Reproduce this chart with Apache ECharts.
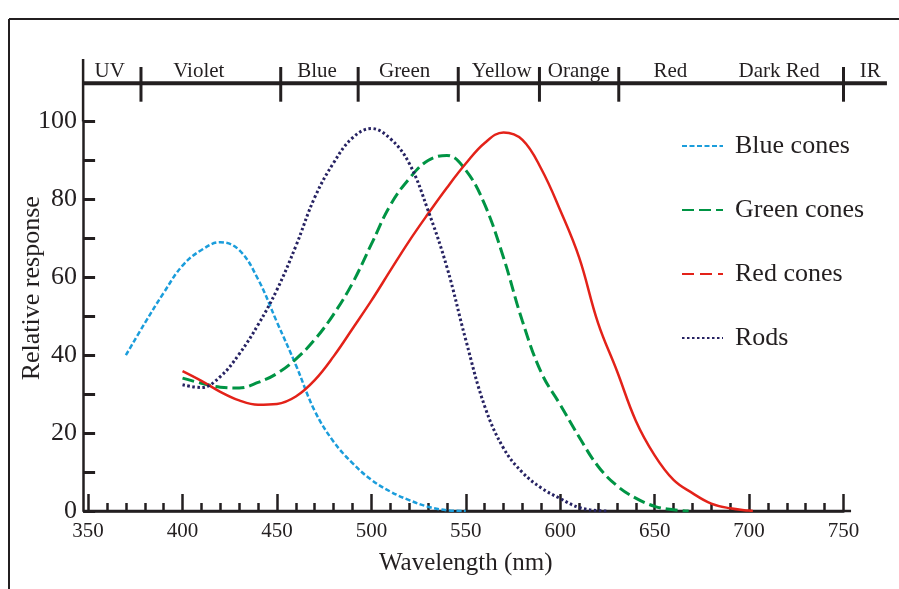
<!DOCTYPE html>
<html><head><meta charset="utf-8">
<script src="https://cdn.jsdelivr.net/npm/echarts@6/dist/echarts.min.js"></script>
<style>html,body{margin:0;padding:0;background:#fff}#c{width:899px;height:589px}</style>
</head><body><div id="c"></div>
<script>
// ---- data ----
const blueNm  = [370,380,390,400,410,420,430,440,450,460,470,480,490,500,510,520,530,540,550];
const blueVal = [40,48.2,56,63,67,69,67,59.5,48.5,37.5,25.7,17.8,12.3,8,5,2.8,1.1,0.2,0];

const greenNm  = [400,410,420,430,440,450,460,470,480,490,500,510,520,530,540,550,560,570,580,590,600,610,620,630,640,650,660,668];
const greenVal = [34.1,32.8,31.8,31.6,33,35.3,39,44,50.5,58.5,68.5,78.5,85.3,90,91.3,87.5,78.7,65,48.7,35.5,27.3,19,11.5,6.5,3.3,1.2,0.3,0];

const redNm  = [400,410,420,430,440,450,460,470,480,490,500,510,520,530,540,550,560,570,580,590,600,610,620,630,640,650,660,670,680,690,700,702];
const redVal = [35.9,33.4,30.6,28.4,27.3,27.5,29.4,33.6,39.7,46.8,54,61.7,69.3,76.3,83,89.2,94.5,97.2,95.3,87.8,77.2,65.1,48.3,36,23.2,14.3,8,4.6,1.9,0.7,0.1,0];

const rodsNm  = [400,410,420,430,440,450,460,470,480,490,500,510,520,530,540,550,560,570,580,590,600,610,620,625];
const rodsVal = [32.4,31.7,34.5,40.3,47.8,56.8,68,80.5,89.4,95.8,98.2,95.6,89.3,77.2,62.6,43.9,26.9,16.1,9.9,5.9,3.2,0.9,0.1,0];

const seriesNames = ['Blue cones','Green cones','Red cones','Rods'];

const xTicks = {min:350, max:750, interval:50};
const yTicks = {min:0, max:100, interval:10, labelEvery:20};

// spectrum band along the top
const bandBoundaries = [378,452,493,546,589,631,750];
const bandNames  = ['UV','Violet','Blue','Green','Yellow','Orange','Red','Dark Red','IR'];
const bandCenters = [361.4,408.6,471.2,517.6,569,609.8,658.3,715.9,764.2];
const bandEnd = 773;

// ---- chart ----
const ink = '#231f20';
const serif = "'Liberation Serif','Times New Roman',serif";
const zip = (a,b)=>a.map((v,i)=>[v,b[i]]);

const chart = echarts.init(document.getElementById('c'), null, {renderer:'canvas'});
const mkLine = (name, nm, val, color, width, type) => ({
  name, type:'line', data: zip(nm,val), symbol:'none', smooth:0.4,
  lineStyle:{color, width, type}, itemStyle:{color}, z:3
});

chart.setOption({
  backgroundColor:'#fff',
  animation:false,
  grid:{left:88.1, right:55.5, top:121.5, bottom:78, containLabel:false, outerBoundsMode:'none'},
  legend:{
    orient:'vertical', left:676, top:126, itemWidth:41, itemHeight:14, itemGap:34,
    itemStyle:{opacity:0},
    textStyle:{fontFamily:serif, fontSize:26, color:ink, lineHeight:30, padding:[0,0,0,7]},
    data:[
      {name:'Blue cones'},
      {name:'Green cones'},
      {name:'Red cones', lineStyle:{type:[12,6]}},
      {name:'Rods'}
    ]
  },
  xAxis:{
    type:'value', min:xTicks.min, max:xTicks.max, interval:xTicks.interval,
    name:'Wavelength (nm)', nameLocation:'middle', nameGap:40, nameMoveOverlap:false,
    nameTextStyle:{fontFamily:serif, fontSize:25, color:ink},
    axisLine:{show:true, lineStyle:{color:ink, width:2.5}},
    axisTick:{show:true, inside:true, length:17, lineStyle:{color:ink, width:2.5}},
    minorTick:{show:true, splitNumber:5, length:8, lineStyle:{color:ink, width:2.5}},
    axisLabel:{fontFamily:serif, fontSize:21, color:ink, margin:10},
    splitLine:{show:false}
  },
  yAxis:{
    type:'value', min:yTicks.min, max:yTicks.max, interval:yTicks.interval, offset:5,
    name:'Relative response', nameLocation:'middle', nameGap:38, nameMoveOverlap:false,
    nameTextStyle:{fontFamily:serif, fontSize:26, color:ink, padding:[0,0,0,56]},
    axisLine:{show:true, lineStyle:{color:ink, width:2.5}},
    axisTick:{show:true, inside:true, length:12, lineStyle:{color:ink, width:3}},
    axisLabel:{fontFamily:serif, fontSize:26, color:ink, margin:6,
      formatter:v=> (v % yTicks.labelEvery === 0 ? String(v) : '')},
    splitLine:{show:false}
  },
  series:[
    mkLine('Blue cones', blueNm, blueVal, '#1b9ddb', 2.5, [5,2.5]),
    mkLine('Green cones', greenNm, greenVal, '#009444', 3, [12,5]),
    mkLine('Red cones', redNm, redVal, '#e32219', 2.5, 'solid'),
    mkLine('Rods', rodsNm, rodsVal, '#262262', 3, [2.5,2.5])
  ]
});

// decorations computed from the axis scale
const px = v => chart.convertToPixel({xAxisIndex:0}, v);
const py = v => chart.convertToPixel({yAxisIndex:0}, v);
const axisX = px(xTicks.min) - 5;
const bandY = 83.3;
const g = [];
// outer frame
g.push({type:'line', shape:{x1:9,y1:19,x2:9,y2:589}, style:{stroke:ink, lineWidth:2}});
g.push({type:'line', shape:{x1:9,y1:19,x2:899,y2:19}, style:{stroke:ink, lineWidth:2}});
// y-axis extension up to the band
g.push({type:'line', shape:{x1:axisX,y1:59,x2:axisX,y2:py(yTicks.max)}, style:{stroke:ink, lineWidth:2.5}});
// x-axis line extension
g.push({type:'line', shape:{x1:axisX,y1:py(0),x2:px(754),y2:py(0)}, style:{stroke:ink, lineWidth:2.5}});
// band line
g.push({type:'line', shape:{x1:axisX,y1:bandY,x2:px(bandEnd),y2:bandY}, style:{stroke:ink, lineWidth:4}});
bandBoundaries.forEach(b=>{
  g.push({type:'line', shape:{x1:px(b),y1:67,x2:px(b),y2:101.7}, style:{stroke:ink, lineWidth:3}});
});
bandNames.forEach((n,i)=>{
  g.push({type:'text', x:px(bandCenters[i]), y:71,
    style:{text:n, fill:ink, font:"21px 'Liberation Serif','Times New Roman',serif", textAlign:'center', textVerticalAlign:'middle'}});
});
chart.setOption({graphic:g});
</script>
</body></html>
